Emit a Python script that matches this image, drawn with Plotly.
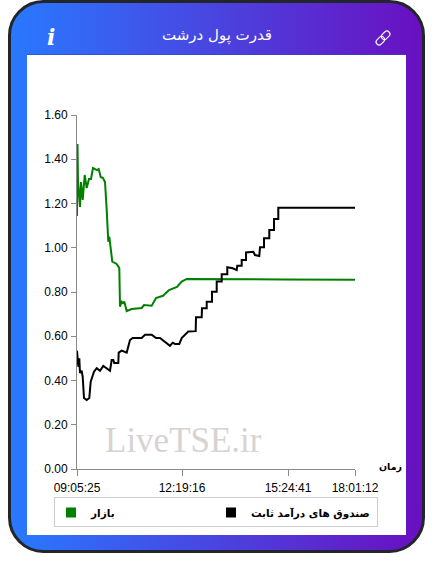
import base64
import plotly.graph_objects as go

title_text = "قدرت پول درشت"
market_name = "بازار"
fund_name = "صندوق های درآمد ثابت"
x_axis_name = "زمان"
watermark = "LiveTSE.ir"

x_tick_pos = [0, 105, 211, 278]
x_tick_labels = ["09:05:25", "12:19:16", "15:24:41", "18:01:12"]
y_tick_vals = [0, 0.2, 0.4, 0.6, 0.8, 1.0, 1.2, 1.4, 1.6]

market_x = [0, 0.5, 1, 3, 4, 5.7, 7.7, 9.7, 12, 14, 16, 20, 21.7, 23.7, 26, 28, 29.7, 30.3, 31.3, 32.3, 33.7, 35.3, 39.7, 42.3, 43, 44.7, 46, 47.3, 49.7, 54.7, 64.7, 67, 74.7, 79, 86, 92, 100, 104.7, 109.7, 123, 205, 278]
market_v = [1.143, 1.469, 1.30, 1.184, 1.297, 1.216, 1.329, 1.27, 1.311, 1.311, 1.36, 1.351, 1.356, 1.32, 1.315, 1.297, 1.171, 1.08, 1.027, 1.05, 0.99, 0.937, 0.927, 0.908, 0.734, 0.756, 0.75, 0.756, 0.714, 0.723, 0.728, 0.741, 0.738, 0.773, 0.783, 0.809, 0.823, 0.847, 0.859, 0.859, 0.857, 0.855]

fund_x = [0, 1.3, 2.3, 3, 4.7, 5.7, 7, 9.7, 12.3, 13.7, 17, 19.7, 23, 26.3, 33, 34.7, 36.3, 37.3, 41.3, 41.7, 44.7, 49.7, 53, 55.7, 64.7, 68, 74.7, 79, 83, 93, 95.7, 98, 102.3, 104.7, 111.3, 118.7, 119, 124.7, 125, 129.7, 129.7, 135, 135, 139.7, 139.7, 144.7, 144.7, 150.3, 150.3, 155.7, 159.7, 160.3, 164.7, 164.7, 169, 169, 176.3, 178, 182.3, 183, 187, 187, 192.3, 192.3, 197, 197, 201.3, 201.3, 278]
fund_v = [0.535, 0.462, 0.50, 0.434, 0.444, 0.417, 0.321, 0.312, 0.321, 0.395, 0.44, 0.456, 0.444, 0.466, 0.444, 0.493, 0.493, 0.479, 0.479, 0.526, 0.535, 0.526, 0.583, 0.592, 0.592, 0.607, 0.607, 0.592, 0.592, 0.557, 0.571, 0.565, 0.565, 0.592, 0.621, 0.623, 0.686, 0.686, 0.726, 0.726, 0.756, 0.756, 0.801, 0.801, 0.847, 0.847, 0.88, 0.88, 0.912, 0.907, 0.899, 0.919, 0.919, 0.945, 0.945, 0.979, 0.982, 0.967, 0.963, 1.002, 1.002, 1.043, 1.043, 1.08, 1.08, 1.13, 1.13, 1.181, 1.181]

W, H = 433, 574
L, T, PW, PH = 77, 115, 278, 354


def px(x):
    return (x - L) / PW


def py(y):
    return (T + PH - y) / PH


card_svg = f'''<svg xmlns="http://www.w3.org/2000/svg" width="{W}" height="{H}" viewBox="0 0 {W} {H}">
<defs><linearGradient id="g" x1="0" y1="0" x2="1" y2="0">
<stop offset="0" stop-color="#2979ff"/><stop offset="1" stop-color="#6a0fc0"/></linearGradient></defs>
<rect x="9.5" y="1.5" width="414" height="550" rx="34" ry="34" fill="url(#g)" stroke="#22262b" stroke-width="3"/>
<rect x="27" y="54" width="379" height="1" fill="#2b4fc0" opacity="0.6"/>
<rect x="27" y="55" width="379" height="480" fill="#ffffff"/>
<rect x="54.5" y="497.5" width="323" height="29" fill="#ffffff" stroke="#cccccc" stroke-width="1"/>
<g fill="none" stroke="#ffffff" stroke-width="1.1" transform="rotate(-45 383 38)">
<rect x="374.5" y="35" width="9.5" height="6" rx="3"/><rect x="382" y="35" width="9.5" height="6" rx="3"/></g>
</svg>'''
card_uri = "data:image/svg+xml;base64," + base64.b64encode(card_svg.encode()).decode()

fig = go.Figure()
fig.add_trace(go.Scatter(x=market_x, y=market_v, mode="lines", line=dict(color="#008000", width=2), showlegend=False))
fig.add_trace(go.Scatter(x=fund_x, y=fund_v, mode="lines", line=dict(color="#000000", width=2), showlegend=False))
fig.add_trace(go.Scatter(x=[None], y=[None], mode="markers", name=market_name, legend="legend",
                         marker=dict(symbol="square", size=10, color="#008000")))
fig.add_trace(go.Scatter(x=[None], y=[None], mode="markers", name=fund_name, legend="legend2",
                         marker=dict(symbol="square", size=10, color="#000000")))

axis_font = dict(family="Liberation Sans, Arial, sans-serif", size=12, color="#000000")
legend_font = dict(family="DejaVu Sans", size=10.5, color="#000000", weight="bold")


def legend_at(left):
    return dict(x=left / W, y=1 - 498 / H, xref="container", yref="container", xanchor="left", yanchor="top",
                borderwidth=0, bgcolor="rgba(0,0,0,0)", font=legend_font)


fig.update_layout(
    width=W, height=H, autosize=False,
    margin=dict(l=L, r=W - L - PW, t=T, b=H - T - PH, autoexpand=False),
    paper_bgcolor="#ffffff", plot_bgcolor="rgba(0,0,0,0)",
    xaxis=dict(range=[0, 278], tickmode="array", tickvals=x_tick_pos, ticktext=x_tick_labels,
               ticks="outside", ticklen=6, tickcolor="#8a8a8a", linecolor="#8a8a8a", linewidth=1,
               ticklabelstandoff=2,
               showline=True, showgrid=False, zeroline=False, tickfont=axis_font, tickangle=0),
    yaxis=dict(range=[0, 1.6], tickmode="array", tickvals=y_tick_vals, tickformat=".2f",
               ticks="outside", ticklen=5, tickcolor="#8a8a8a", linecolor="#8a8a8a", linewidth=1,
               ticklabelstandoff=1,
               showline=True, showgrid=False, zeroline=False, tickfont=axis_font),
    legend=legend_at(51),
    legend2=legend_at(211),
    images=[dict(source=card_uri, xref="paper", yref="paper", x=px(0), y=py(0), sizex=W / PW, sizey=H / PH,
                 xanchor="left", yanchor="top", sizing="stretch", layer="below")],
    annotations=[
        dict(text=title_text, xref="paper", yref="paper", x=px(217), y=py(35), showarrow=False,
             xanchor="center", yanchor="middle", font=dict(family="DejaVu Sans", size=15, color="#ffffff")),
        dict(text="i", xref="paper", yref="paper", x=px(51), y=py(37), showarrow=False,
             xanchor="center", yanchor="middle",
             font=dict(family="DejaVu Serif", size=22, color="#ffffff", weight="bold", style="italic")),
        dict(text=x_axis_name, xref="paper", yref="paper", x=px(390), y=py(467), showarrow=False,
             xanchor="center", yanchor="middle",
             font=dict(family="DejaVu Sans", size=9.5, color="#000000", weight="bold")),
        dict(text=watermark, xref="paper", yref="paper", x=px(183), y=py(440), showarrow=False,
             xanchor="center", yanchor="middle",
             font=dict(family="Liberation Serif", size=35, color="#d9d2d2")),
    ],
)
fig.write_html("out.html", config={"displayModeBar": False},
               post_script="document.body.style.margin='0';document.body.style.overflow='hidden';")
